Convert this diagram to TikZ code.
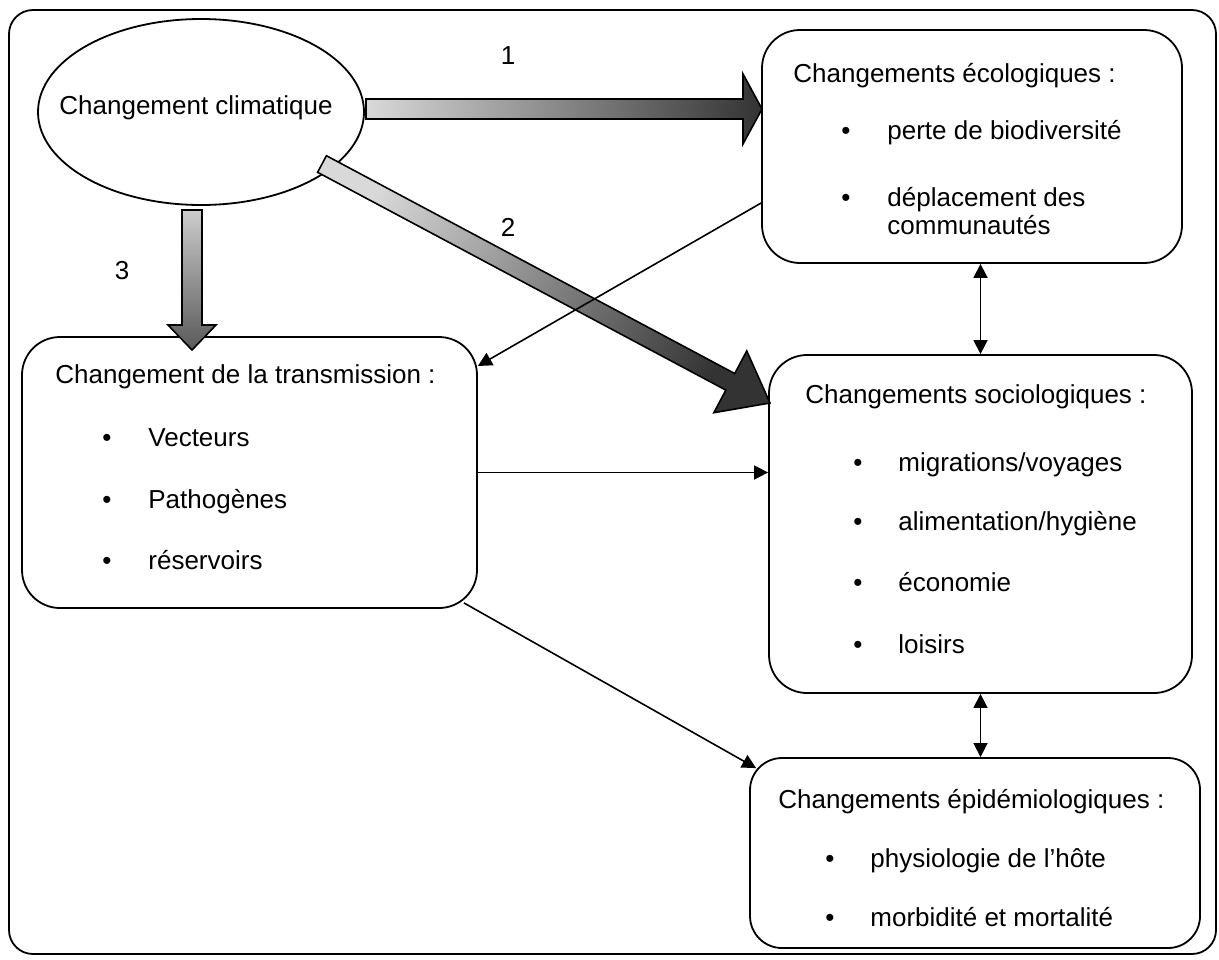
\documentclass[tikz,border=0pt]{standalone}
\usepackage{fontspec}
\setmainfont{Liberation Sans}
\usetikzlibrary{calc,arrows.meta,fit,shapes.geometric}

% thick shaded arrow: options, start, end, half shaft, half head, head length
\newcommand{\fatarrow}[6]{%
\filldraw[fat,#1] ($#2!#4!90:#3$) -- ($($#3!#6!#2$)!#4!90:#3$) -- ($($#3!#6!#2$)!#5!90:#3$) -- #3
  -- ($($#3!#6!#2$)!#5!-90:#3$) -- ($($#3!#6!#2$)!#4!-90:#3$) -- ($#2!#4!-90:#3$) -- cycle;}

\begin{document}
\begin{tikzpicture}[x=0.5pt,y=-0.5pt,
  box/.style={draw,line width=0.9pt,rounded corners=19pt,inner sep=0pt},
  txt/.style={anchor=base west,inner sep=0pt,font=\fontsize{13}{14}\selectfont},
  puce/.style={anchor=base,inner sep=0pt,font=\fontsize{13}{14}\selectfont},
  lien/.style={line width=0.8pt,-{Triangle[length=7pt,width=7pt]}},
  lien2/.style={line width=0.8pt,{Triangle[length=7pt,width=7pt]}-{Triangle[length=7pt,width=7pt]}},
  fat/.style={draw,line width=0.8pt,line join=miter}]
\useasboundingbox (0,0) rectangle (1219,959);
\draw[line width=0.9pt,rounded corners=12pt] (9,10) rectangle (1216,954);

% boxes
\node[draw,line width=0.9pt,ellipse,minimum width=163pt,minimum height=93pt,inner sep=0pt] (clim) at (201,112) {};
\path (196,108) node[font=\fontsize{13}{14}\selectfont,inner sep=0pt] (clim-t) {Changement climatique};
\node[box,fit={(762,30) (1182,263)}] (eco) {};
\node[box,fit={(769,355) (1192,693)}] (socio) {};
\node[box,rounded corners=16pt,fit={(750,758) (1200,948)}] (epid) {};
\node[box,fit={(22,337) (477,608)}] (trans) {};

% fat arrows
\coordinate (f1s) at (366,109);
\coordinate (f1e) at (762,109);
\coordinate (f2s) at (322,164);
\coordinate (f2e) at (770,403);
\coordinate (f3s) at (192,210);
\coordinate (f3e) at (192,350);
\fatarrow{left color=black!15,right color=black!80}{(f1s)}{(f1e)}{5pt}{17.5pt}{9.5pt}
\fatarrow{left color=black!15,right color=black!80,shading angle=62}{(f2s)}{(f2e)}{4.7pt}{17.5pt}{22.5pt}
\fatarrow{top color=black!20,bottom color=black!65}{(f3s)}{(f3e)}{5pt}{12pt}{12.5pt}
\path (508,64) node[puce] (n1) {1};
\path (508,236) node[puce] (n2) {2};
\path (122,279) node[puce] (n3) {3};

% thin connectors
\draw[lien] (eco.195) -- (trans.25);
\draw[lien] (trans.east) -- (trans.east -| socio.west);
\draw[lien] ($(trans.south east)+(-14,-6)$) -- ($(epid.north west)+(7,11)$);
\draw[lien2] (eco.south -| socio.north) -- (socio.north);
\draw[lien2] (socio.south) -- (socio.south |- epid.north);

% texts
\path (793,82) node[txt] (eco-t) {Changements écologiques :};
\path (846,139) node[puce] (eco-p1) {\textbullet};
\path (887,139) node[txt] (eco-1) {perte de biodiversité};
\path (846,206) node[puce] (eco-p2) {\textbullet};
\path (887,206) node[txt] (eco-2) {déplacement des};
\path (887,234) node[txt] (eco-3) {communautés};

\path (805,403) node[txt] (socio-t) {Changements sociologiques :};
\foreach \y/\t [count=\i] in {471/migrations\slash voyages,530/alimentation\slash hygiène,591/économie,653/loisirs}{
  \path (858,\y) node[puce] (socio-p\i) {\textbullet};
  \path (898,\y) node[txt] (socio-\i) {\t};
}

\path (778,808) node[txt] (epid-t) {Changements épidémiologiques :};
\foreach \y/\t [count=\i] in {867/physiologie de l’hôte,926/morbidité et mortalité}{
  \path (830,\y) node[puce] (epid-p\i) {\textbullet};
  \path (870,\y) node[txt] (epid-\i) {\t};
}

\path (55,383) node[txt] (trans-t) {Changement de la transmission :};
\foreach \y/\t [count=\i] in {446/Vecteurs,508/Pathogènes,569/réservoirs}{
  \path (107,\y) node[puce] (trans-p\i) {\textbullet};
  \path (148,\y) node[txt] (trans-\i) {\t};
}
\end{tikzpicture}
\end{document}
